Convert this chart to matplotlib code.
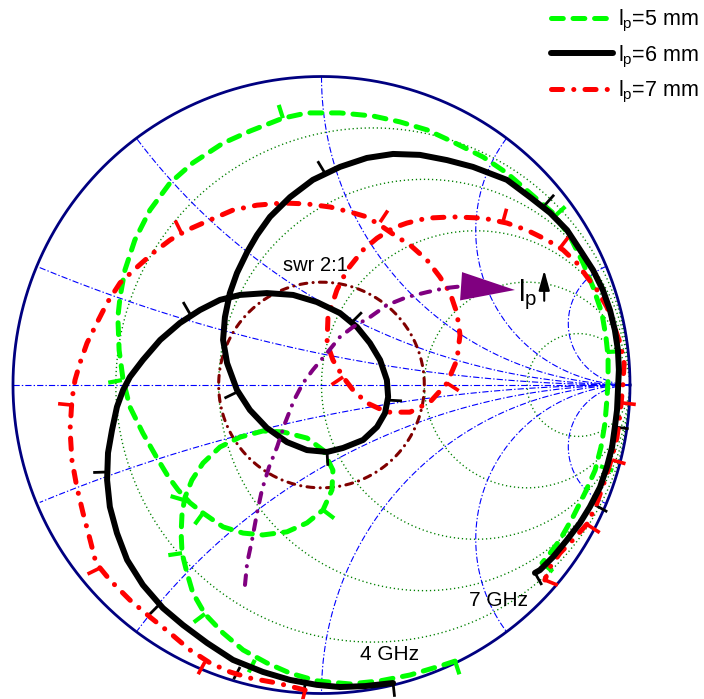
import matplotlib.pyplot as plt
import numpy as np

plt.rcParams['font.family'] = ['Liberation Sans', 'DejaVu Sans']
plt.rcParams['lines.scale_dashes'] = False

# Smith chart grid values
r_grid = [0.2, 0.5, 1, 2, 5]
x_grid = [0.2, 0.5, 1, 2, 5]
swr = 2.0

# Reflection coefficient traces, 4 GHz -> 7 GHz (real, imag)
lp5_re = [0.433, 0.384, 0.287, 0.190, 0.092, -0.015, -0.102, -0.177, -0.254, -0.319,
          -0.378, -0.417, -0.436, -0.452, -0.455, -0.452, -0.442, -0.420, -0.384, -0.329,
          -0.264, -0.190, -0.125, -0.047, 0.005, 0.037, 0.034, 0.005, -0.047, -0.112,
          -0.190, -0.254, -0.319, -0.384, -0.426, -0.465, -0.498, -0.533, -0.579, -0.621,
          -0.643, -0.656, -0.660, -0.653, -0.637, -0.605, -0.556, -0.491, -0.417, -0.319,
          -0.232, -0.125, -0.047, 0.060, 0.167, 0.254, 0.342, 0.426, 0.524, 0.601,
          0.676, 0.750, 0.806, 0.848, 0.880, 0.909, 0.922, 0.929, 0.929, 0.925,
          0.919, 0.906, 0.887, 0.854, 0.815, 0.773, 0.741, 0.715]
lp5_im = [-0.895, -0.911, -0.940, -0.959, -0.969, -0.959, -0.934, -0.901, -0.859, -0.804,
          -0.742, -0.674, -0.609, -0.545, -0.480, -0.415, -0.363, -0.308, -0.253, -0.201,
          -0.169, -0.149, -0.152, -0.172, -0.211, -0.276, -0.340, -0.405, -0.447, -0.476,
          -0.486, -0.480, -0.460, -0.415, -0.382, -0.340, -0.295, -0.237, -0.156, -0.071,
          0.016, 0.113, 0.220, 0.285, 0.373, 0.470, 0.567, 0.655, 0.720, 0.784,
          0.823, 0.865, 0.882, 0.882, 0.872, 0.853, 0.827, 0.788, 0.739, 0.687,
          0.622, 0.558, 0.480, 0.395, 0.318, 0.233, 0.156, 0.091, 0.016, -0.049,
          -0.123, -0.201, -0.276, -0.350, -0.428, -0.502, -0.545, -0.577]
lp5_tick_re = [0.433, -0.216, -0.378, -0.452, -0.446, -0.384, 0.005, -0.647, -0.125, 0.757, 0.925, 0.903, 0.715]
lp5_tick_im = [-0.895, -0.891, -0.742, -0.545, -0.373, -0.415, -0.405, 0.016, 0.865, 0.548, 0.107, -0.263, -0.577]

lp6_re = [0.232, 0.141, 0.060, -0.015, -0.102, -0.190, -0.287, -0.371, -0.449, -0.514,
          -0.579, -0.630, -0.663, -0.686, -0.695, -0.692, -0.679, -0.663, -0.643, -0.621,
          -0.579, -0.523, -0.459, -0.394, -0.329, -0.264, -0.177, -0.092, -0.015, 0.060,
          0.115, 0.157, 0.190, 0.212, 0.216, 0.206, 0.180, 0.135, 0.070, 0.018,
          -0.047, -0.112, -0.177, -0.232, -0.274, -0.306, -0.319, -0.313, -0.297, -0.274,
          -0.241, -0.209, -0.167, -0.102, -0.028, 0.060, 0.147, 0.232, 0.319, 0.407,
          0.491, 0.601, 0.676, 0.741, 0.796, 0.838, 0.880, 0.912, 0.935, 0.951,
          0.961, 0.964, 0.961, 0.958, 0.951, 0.942, 0.925, 0.903, 0.870, 0.838,
          0.796, 0.750, 0.708, 0.692]
lp6_im = [-0.966, -0.976, -0.979, -0.972, -0.956, -0.930, -0.891, -0.836, -0.778, -0.723,
          -0.648, -0.567, -0.480, -0.395, -0.308, -0.220, -0.146, -0.071, -0.016, 0.026,
          0.081, 0.146, 0.201, 0.243, 0.276, 0.292, 0.298, 0.292, 0.269, 0.233,
          0.188, 0.136, 0.081, 0.016, -0.039, -0.091, -0.136, -0.178, -0.204, -0.217,
          -0.211, -0.185, -0.139, -0.081, -0.016, 0.071, 0.146, 0.220, 0.298, 0.363,
          0.431, 0.486, 0.545, 0.609, 0.665, 0.707, 0.736, 0.749, 0.746, 0.729,
          0.707, 0.665, 0.609, 0.558, 0.502, 0.438, 0.373, 0.308, 0.243, 0.178,
          0.113, 0.049, -0.016, -0.081, -0.136, -0.201, -0.266, -0.331, -0.395, -0.447,
          -0.502, -0.558, -0.600, -0.609]
lp6_tick_re = [0.232, -0.053, -0.264, -0.530, -0.695, -0.426, 0.099, 0.216, 0.018, -0.274, 0.011, 0.724, 0.951, 0.887, 0.692]
lp6_tick_im = [-0.966, -0.969, -0.914, -0.716, -0.282, 0.230, 0.204, -0.049, -0.217, -0.023, 0.687, 0.583, -0.136, -0.389, -0.609]

lp7_re = [-0.053, -0.144, -0.232, -0.297, -0.361, -0.426, -0.491, -0.556, -0.621, -0.686,
          -0.731, -0.750, -0.773, -0.793, -0.809, -0.815, -0.809, -0.799, -0.783, -0.760,
          -0.728, -0.695, -0.653, -0.598, -0.546, -0.491, -0.436, -0.361, -0.287, -0.209,
          -0.125, -0.047, 0.028, 0.092, 0.147, 0.199, 0.245, 0.287, 0.342, 0.384,
          0.417, 0.439, 0.449, 0.439, 0.407, 0.352, 0.287, 0.212, 0.147, 0.102,
          0.070, 0.037, 0.018, 0.021, 0.050, 0.083, 0.135, 0.180, 0.232, 0.277,
          0.342, 0.426, 0.524, 0.601, 0.666, 0.731, 0.783, 0.828, 0.861, 0.893,
          0.925, 0.945, 0.968, 0.981, 0.977, 0.968, 0.958, 0.942, 0.919, 0.893,
          0.864, 0.815, 0.773, 0.741, 0.724]
lp7_im = [-0.989, -0.966, -0.950, -0.930, -0.901, -0.859, -0.804, -0.752, -0.697, -0.632,
          -0.577, -0.502, -0.415, -0.331, -0.243, -0.146, -0.049, 0.016, 0.071, 0.136,
          0.201, 0.266, 0.331, 0.382, 0.428, 0.470, 0.502, 0.535, 0.567, 0.583,
          0.590, 0.587, 0.577, 0.561, 0.545, 0.512, 0.480, 0.454, 0.405, 0.350,
          0.298, 0.233, 0.162, 0.081, 0.006, -0.055, -0.088, -0.088, -0.058, -0.016,
          0.026, 0.081, 0.136, 0.220, 0.308, 0.373, 0.438, 0.476, 0.509, 0.525,
          0.541, 0.545, 0.541, 0.525, 0.502, 0.470, 0.438, 0.395, 0.350, 0.308,
          0.253, 0.201, 0.136, 0.071, 0.000, -0.091, -0.169, -0.233, -0.308, -0.382,
          -0.447, -0.502, -0.545, -0.590, -0.632]
lp7_tick_re = [-0.053, -0.378, -0.718, -0.809, -0.454, 0.190, 0.588, 0.773, 0.407, 0.070, 0.974, 0.942, 0.864, 0.724]
lp7_tick_im = [-0.989, -0.898, -0.593, -0.065, 0.493, 0.528, 0.528, 0.444, 0.006, 0.026, -0.058, -0.243, -0.454, -0.632]

# trend of the loop as lp grows
trend_re = [-0.248, -0.241, -0.225, -0.209, -0.193, -0.170, -0.144, -0.118, -0.089, -0.060,
            -0.028, 0.018, 0.060, 0.102, 0.157, 0.212, 0.277, 0.342, 0.400, 0.454]
trend_im = [-0.648, -0.577, -0.502, -0.415, -0.340, -0.266, -0.201, -0.123, -0.049, 0.006,
            0.049, 0.104, 0.156, 0.188, 0.220, 0.259, 0.285, 0.301, 0.314, 0.320]
trend_tip = (0.627, 0.308)

fig = plt.figure(figsize=(7.04, 6.99), dpi=100)
ax = fig.add_axes([0, 0, 1, 1])
ax.set_xlim(-1.0421, 1.2399)
ax.set_ylim(-1.0178, 1.2480)
ax.axis('off')

t = np.linspace(0, 2 * np.pi, 1441)

# constant resistance circles
for r in r_grid:
    c, rad = r / (1 + r), 1 / (1 + r)
    ax.plot(c + rad * np.cos(t), rad * np.sin(t), color='#008000',
            ls=(0, (0.9, 2.0)), lw=1.0, zorder=1)

# constant reactance arcs
blue_dd = (0, (4.5, 1.5, 1.0, 1.5))
for x in x_grid:
    for s in (1, -1):
        px = 1 + np.cos(t) / x
        py = s / x + np.sin(t) / x
        inside = px ** 2 + py ** 2 <= 1.0005
        px = np.where(inside, px, np.nan)
        py = np.where(inside, py, np.nan)
        ax.plot(px, py, color='#0000FF', ls=blue_dd, lw=0.8, zorder=1)
ax.plot([-1, 1], [0, 0], color='#0000FF', ls=blue_dd, lw=0.8, zorder=1)
ax.plot(np.cos(t), np.sin(t), color='#000080', lw=2.0, zorder=2)

# swr 2:1 circle
g = (swr - 1) / (swr + 1)
ax.plot(g * np.cos(t), g * np.sin(t), color='#800000', lw=2.2,
        ls=(0, (5, 4.5, 0.1, 4.5)), dash_capstyle='round', zorder=3)
ax.text(-0.018, 0.389, 'swr 2:1', fontsize=14.5, ha='center', va='center', zorder=6)


def draw_ticks(re, im, tre, tim, color, lw, length=0.045):
    pts = np.column_stack([re, im])
    for x0, y0 in zip(tre, tim):
        i = np.argmin((pts[:, 0] - x0) ** 2 + (pts[:, 1] - y0) ** 2)
        a = pts[max(i - 1, 0)]
        b = pts[min(i + 1, len(pts) - 1)]
        tx, ty = b - a
        n = np.hypot(tx, ty)
        ax.plot([x0, x0 - length * ty / n], [y0, y0 + length * tx / n],
                color=color, lw=lw, solid_capstyle='butt', zorder=4)


l5, = ax.plot(lp5_re, lp5_im, color='#00FF00', lw=3.6, ls=(0, (8.5, 7.0)),
              dash_capstyle='round', label=r'$\mathregular{l_p}$=5 mm', zorder=4)
draw_ticks(lp5_re, lp5_im, lp5_tick_re, lp5_tick_im, '#00FF00', 3.0)
l6, = ax.plot(lp6_re, lp6_im, color='black', lw=4.3, solid_capstyle='round',
              label=r'$\mathregular{l_p}$=6 mm', zorder=5)
draw_ticks(lp6_re, lp6_im, lp6_tick_re, lp6_tick_im, 'black', 2.0)
l7, = ax.plot(lp7_re, lp7_im, color='#FF0000', lw=3.6, ls=(0, (8, 8, 0.1, 8)),
              dash_capstyle='round', label=r'$\mathregular{l_p}$=7 mm', zorder=4)
draw_ticks(lp7_re, lp7_im, lp7_tick_re, lp7_tick_im, '#FF0000', 2.6)

# direction of increasing lp
ax.plot(trend_re, trend_im, color='#800080', lw=2.9, ls=(0, (7, 6.5, 0.1, 6.5)),
        dash_capstyle='round', zorder=5)
ax.arrow(trend_re[-1], trend_im[-1], trend_tip[0] - trend_re[-1], trend_tip[1] - trend_im[-1],
         width=0, head_width=0.092, head_length=0.175, length_includes_head=True,
         fc='#800080', ec='#800080', lw=0, zorder=5)
ax.text(0.638, 0.292, r'$\mathregular{l_p}$', fontsize=21, ha='left', va='center', zorder=6)
ax.annotate('', xy=(0.722, 0.381), xytext=(0.722, 0.264),
            arrowprops=dict(arrowstyle='-|>,head_length=0.8,head_width=0.22',
                            lw=1.5, color='black', mutation_scale=15), zorder=6)

ax.text(0.575, -0.697, '7 GHz', fontsize=15, ha='center', va='center', zorder=6)
ax.text(0.222, -0.875, '4 GHz', fontsize=15, ha='center', va='center', zorder=6)

fig.legend(handles=[l5, l6, l7], loc='upper right', bbox_to_anchor=(0.992, 0.988),
           frameon=False, fontsize=15.5, handlelength=2.85, handletextpad=0.22,
           labelspacing=0.42, borderpad=0.0, borderaxespad=0)

fig.savefig('out.png', dpi=100)
